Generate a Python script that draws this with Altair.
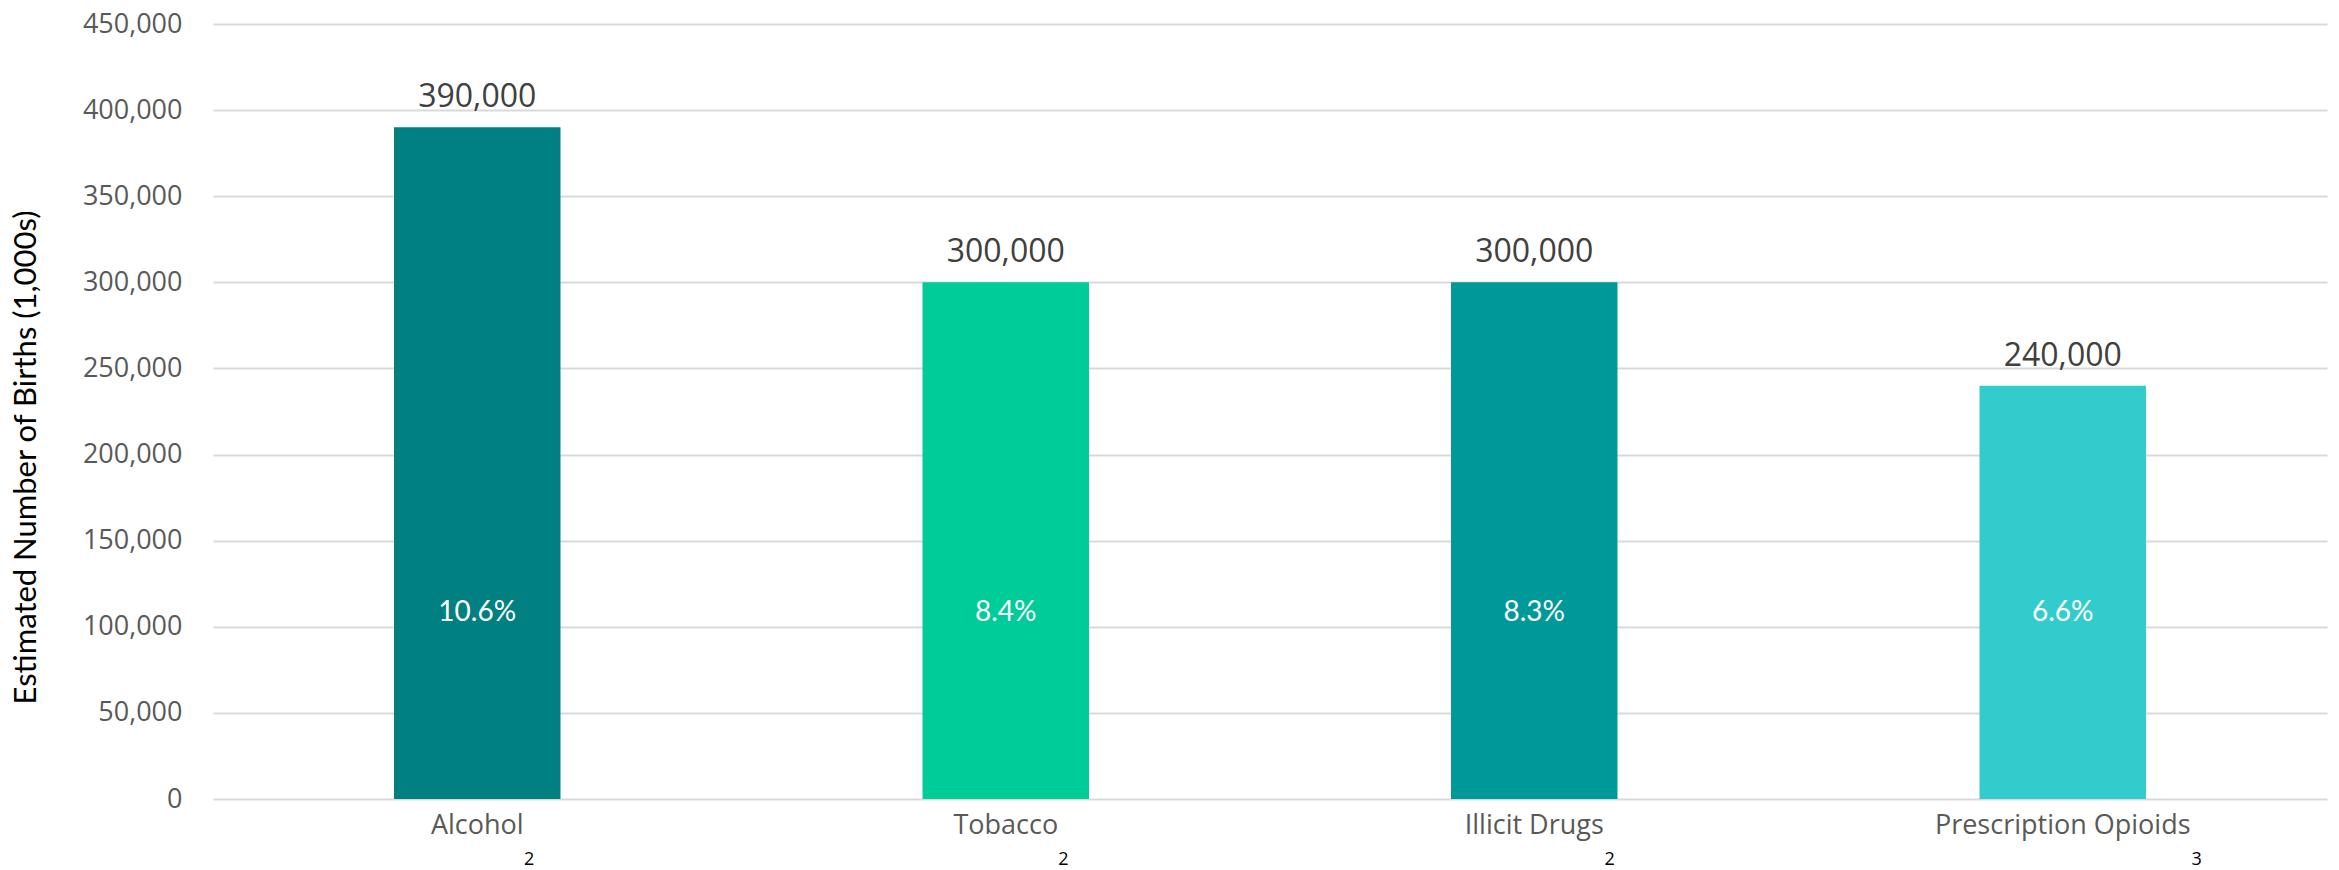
import altair as alt
import pandas as pd

categories = ["Alcohol", "Tobacco", "Illicit Drugs", "Prescription Opioids"]
subscripts = ["2", "2", "2", "3"]
births = [390000, 300000, 300000, 240000]
percents = ["10.6%", "8.4%", "8.3%", "6.6%"]
colors = ["#008080", "#00CC99", "#009999", "#33CCCC"]
y_ticks = [0, 50000, 100000, 150000, 200000, 250000, 300000, 350000, 400000, 450000]

# approximate Open Sans advance widths (em) to place the subscript after each label
_w = {"A": .633, "l": .266, "c": .478, "o": .604, "h": .614, "T": .558, "b": .613,
      "a": .556, "I": .279, "i": .266, "t": .353, " ": .26, "D": .722, "r": .408,
      "u": .614, "g": .544, "s": .477, "P": .604, "e": .561, "p": .613, "n": .614,
      "O": .778, "d": .613}
LABEL_SIZE = 27


def half_width(s):
    return sum(_w.get(ch, .55) for ch in s) * LABEL_SIZE / 2


df = pd.DataFrame({
    "cat": categories,
    "sub": subscripts,
    "births": births,
    "pct": percents,
})

x_axis = alt.Axis(title=None, labelAngle=0, labelFont="Open Sans",
                  labelFontSize=LABEL_SIZE, labelColor="#595959",
                  labelPadding=13, labelLimit=0, ticks=False,
                  domain=False, grid=False)
x_scale = alt.Scale(paddingInner=0.685, paddingOuter=0.3425)
y_axis = alt.Axis(title="Estimated Number of Births (1,000s)", values=y_ticks,
                  labelExpr="format(datum.value, ',')",
                  labelFont="Open Sans", labelFontSize=27,
                  labelColor="#595959", labelPadding=31, ticks=False,
                  domain=False, gridColor="#d9d9d9", gridWidth=2,
                  titleFont="Lato", titleFontSize=31, titleFontWeight="normal",
                  titleColor="#000000", titleX=-171, titleY=433)
y_scale = alt.Scale(domain=[0, 450000], nice=False)


def X():
    return alt.X("cat:N", sort=categories, scale=x_scale, axis=x_axis)


bars = alt.Chart(df).mark_bar().encode(
    x=X(),
    y=alt.Y("births:Q", scale=y_scale, axis=y_axis),
    color=alt.Color("cat:N", scale=alt.Scale(domain=categories, range=colors), legend=None),
)

values = alt.Chart(df).mark_text(font="Open Sans", fontSize=32, color="#404040",
                                 baseline="alphabetic", dy=-20).encode(
    x=X(),
    y=alt.Y("births:Q", scale=y_scale, axis=y_axis),
    text=alt.Text("births:Q", format=","),
)

pcts = alt.Chart(df).mark_text(font="Lato", fontSize=28, color="#ffffff",
                               baseline="middle").encode(
    x=X(),
    y=alt.datum(108000, scale=y_scale, axis=y_axis),
    text="pct:N",
)

layers = [bars, values, pcts]
for c, s in zip(categories, subscripts):
    layers.append(
        alt.Chart(pd.DataFrame({"cat": [c], "sub": [s]})).mark_text(
            font="Open Sans", fontSize=18, color="#000000", baseline="alphabetic",
            align="left", dx=float(half_width(c)), dy=66
        ).encode(x=X(), y=alt.datum(0, scale=y_scale, axis=y_axis), text="sub:N")
    )

chart = alt.layer(*layers).properties(
    width=2114, height=775,
    autosize=alt.AutoSizeParams(type="none"),
    padding={"left": 213, "top": 24, "right": 12, "bottom": 71},
).configure_view(stroke=None)

chart.save("out.html", embed_options={"renderer": "svg", "actions": False})
